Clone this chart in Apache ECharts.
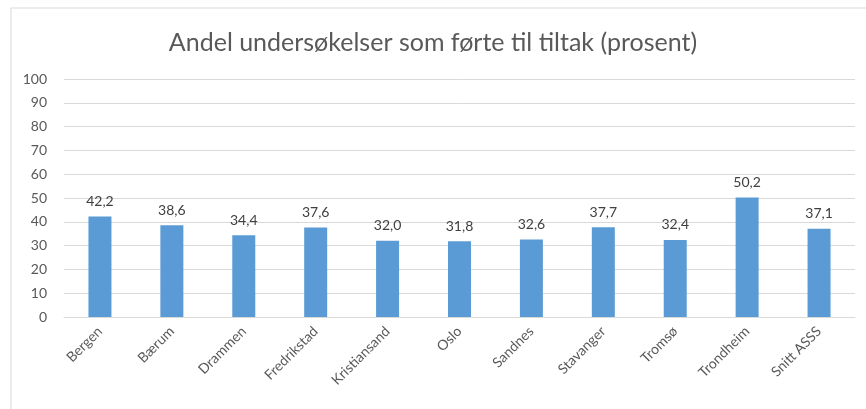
<!DOCTYPE html>
<html><head><meta charset="utf-8">
<script src="https://cdn.jsdelivr.net/npm/echarts@6/dist/echarts.min.js"></script>
<style>html,body{margin:0;padding:0;background:#fff}#c{width:866px;height:409px}</style>
</head><body><div id="c"></div>
<script>
const categories = ['Bergen','Bærum','Drammen','Fredrikstad','Kristiansand','Oslo','Sandnes','Stavanger','Tromsø','Trondheim','Snitt ASSS'];
const values = [42.2, 38.6, 34.4, 37.6, 32.0, 31.8, 32.6, 37.7, 32.4, 50.2, 37.1];
const titleText = 'Andel undersøkelser som førte til tiltak (prosent)';

const FONT = 'Lato';
const chart = echarts.init(document.getElementById('c'), null, {renderer:'canvas'});
chart.setOption({
  animation: false,
  backgroundColor: '#fff',
  graphic: [{type:'rect', shape:{x:11, y:8, width:900, height:450}, style:{fill:'none', stroke:'#d9d9d9', lineWidth:1}}],
  title: {text: titleText, left: 'center', top: 25, textStyle:{fontFamily:FONT, fontWeight:'normal', fontSize:25, color:'#595959'}},
  grid: {left: 64, right: 11, top: 79, bottom: 92, containLabel:false},
  xAxis: {type:'category', data: categories,
    axisLine:{lineStyle:{color:'#d9d9d9'}}, axisTick:{show:false},
    axisLabel:{rotate:45, interval:0, fontFamily:FONT, fontSize:14, color:'#595959', margin:12}},
  yAxis: {type:'value', min:0, max:100, interval:10,
    axisLine:{show:false}, axisTick:{show:false},
    splitLine:{lineStyle:{color:'#d9d9d9'}},
    axisLabel:{fontFamily:FONT, fontSize:14, color:'#595959', margin:17}},
  series: [{type:'bar', data: values, barWidth: 23, itemStyle:{color:'#5b9bd5'},
    label:{show:true, position:'top', distance:8, fontFamily:FONT, fontSize:14, color:'#404040',
      formatter: p => p.value.toFixed(1).replace('.', ',')}}]
});
</script></body></html>
